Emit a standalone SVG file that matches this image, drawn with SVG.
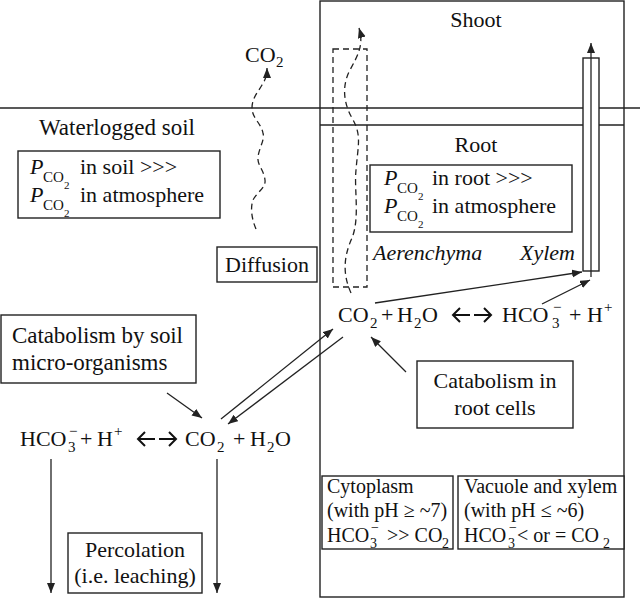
<svg xmlns="http://www.w3.org/2000/svg" width="640" height="599" viewBox="0 0 640 599">
<style>
text{font-family:"Liberation Serif","Times New Roman",serif;font-size:22px;fill:#111}
.s{font-size:20px}
.b{font-size:23px}
.sub{font-size:15px}
.s14{font-size:14px}
.ss{font-size:11px}
.it{font-style:italic}
.mid{text-anchor:middle}
.box{fill:#fff;stroke:#222;stroke-width:1.4}
.ln{fill:none;stroke:#222;stroke-width:1.4}
.ar{fill:none;stroke:#222;stroke-width:1.3;marker-end:url(#ah)}
.dash{fill:none;stroke:#222;stroke-width:1.3;stroke-dasharray:6 4}
.eqa{fill:none;stroke:#111;stroke-width:2}
</style>
<defs>
<marker id="ah" markerUnits="userSpaceOnUse" markerWidth="11" markerHeight="9" refX="10" refY="4" orient="auto">
<path d="M0,0 L10,4 L0,8 z" fill="#222"/>
</marker>
</defs>

<g id="plant">
<rect x="320" y="1" width="304" height="596" class="ln"/>
<line x1="0" y1="108" x2="640" y2="108" class="ln"/>
<line x1="320" y1="125" x2="624" y2="125" class="ln"/>
<text x="476" y="27" class="mid">Shoot</text>
<text x="476" y="152" class="mid">Root</text>
</g>

<g id="soil-label">
<text x="39" y="135" class="b">Waterlogged soil</text>
</g>

<g id="pco2-soil">
<rect x="18" y="151" width="202" height="67" class="box"/>
<text x="30" y="174" class="it">P</text><text x="43" y="182" class="sub">CO</text><text x="64" y="189" class="ss">2</text><text x="80" y="174">in soil &gt;&gt;&gt;</text>
<text x="30" y="202" class="it">P</text><text x="43" y="210" class="sub">CO</text><text x="64" y="217" class="ss">2</text><text x="80" y="202">in atmosphere</text>
</g>

<g id="co2-air">
<text x="245" y="62">CO</text><text x="276" y="67" class="sub">2</text>
</g>

<g id="aerenchyma">
<rect x="333" y="49" width="34" height="238" fill="none" stroke="#222" stroke-width="1.3" stroke-dasharray="6 4"/>
<text x="373" y="260" class="it">Aerenchyma</text>
</g>

<g id="xylem">
<rect x="583" y="58" width="16" height="213" class="box"/>
<text x="520" y="260" class="it">Xylem</text>
</g>

<g id="pco2-root">
<rect x="370" y="165" width="202" height="67" class="box"/>
<text x="384" y="185" class="it">P</text><text x="397" y="193" class="sub">CO</text><text x="418" y="200" class="ss">2</text><text x="432" y="185">in root &gt;&gt;&gt;</text>
<text x="384" y="213" class="it">P</text><text x="397" y="221" class="sub">CO</text><text x="418" y="228" class="ss">2</text><text x="432" y="213">in atmosphere</text>
</g>

<g id="diffusion">
<rect x="217" y="247" width="100" height="35" class="box"/>
<text x="267" y="272" class="mid">Diffusion</text>
</g>

<g id="catabolism-soil">
<rect x="1" y="315" width="195" height="68" class="box"/>
<text x="12" y="343" class="b" textLength="171">Catabolism by soil</text>
<text x="12" y="370" class="b">micro-organisms</text>
</g>

<g id="eq-root">
<text x="338" y="322">CO</text><text x="370" y="328" class="sub">2</text>
<text x="381" y="322">+</text>
<text x="397" y="322">H</text><text x="414" y="328" class="sub">2</text><text x="422" y="322">O</text>
<text x="502" y="322">HCO</text><text x="552" y="328" class="sub">3</text><text x="553" y="312" class="sub">−</text>
<text x="569" y="322">+</text>
<text x="587" y="322">H</text><text x="604" y="312" class="sub">+</text>
</g>

<g id="catabolism-root">
<rect x="417" y="361" width="156" height="67" class="box"/>
<text x="495" y="388" class="mid">Catabolism in</text>
<text x="495" y="415" class="mid">root cells</text>
</g>

<g id="eq-soil">
<text x="20" y="446">HCO</text><text x="68" y="452" class="sub">3</text><text x="69" y="436" class="sub">−</text>
<text x="80" y="446">+</text>
<text x="97" y="446">H</text><text x="114" y="436" class="sub">+</text>
<text x="185" y="446">CO</text><text x="217" y="452" class="sub">2</text>
<text x="233" y="446">+</text>
<text x="250" y="446">H</text><text x="267" y="452" class="sub">2</text><text x="275" y="446">O</text>
</g>

<g id="percolation">
<rect x="68" y="533" width="134" height="60" class="box"/>
<text x="135" y="557" class="mid">Percolation</text>
<text x="135" y="583" class="mid">(i.e. leaching)</text>
</g>

<g id="cytoplasm">
<rect x="322" y="476" width="131" height="73" class="box"/>
<text x="327" y="493" class="s">Cytoplasm</text>
<text x="327" y="517" class="s">(with pH ≥ ~7)</text>
<text x="327" y="542" class="s">HCO</text><text x="370" y="548" class="s14">3</text><text x="371" y="532" class="s14">−</text>
<text x="387" y="542" class="s">&gt;&gt; CO</text><text x="442" y="548" class="s14">2</text>
</g>

<g id="vacuole">
<rect x="458" y="476" width="166" height="73" class="box"/>
<text x="464" y="493" class="s">Vacuole and xylem</text>
<text x="464" y="517" class="s">(with pH ≤ ~6)</text>
<text x="464" y="542" class="s">HCO</text><text x="508" y="548" class="s14">3</text><text x="509" y="532" class="s14">−</text>
<text x="517" y="542" class="s">&lt; or = CO</text><text x="603" y="548" class="s14">2</text>
</g>

<g id="connectors">
<path class="dash" d="M256,229 C252,220 250,208 253,200 C257,192 266,188 265,180 C264,170 257,165 258,157 C259,148 265,140 263,133 C261,123 252,118 252,108 C252,98 258,92 262,85 C266,79 267,74 267,68" marker-end="url(#ah)"/>
<path class="dash" d="M351,293 C343,275 343,258 352,238 C360,218 354,190 356,170 C358,145 362,135 352,118 C343,102 342,85 350,70 C358,55 364,45 359,28" marker-end="url(#ah)"/>
<line x1="591" y1="277" x2="591" y2="43" class="ar"/>
<line x1="167" y1="393" x2="202" y2="418" class="ar"/>
<line x1="221" y1="419" x2="333" y2="329" class="ar"/>
<line x1="343" y1="337" x2="228" y2="424" class="ar"/>
<line x1="375" y1="303" x2="582" y2="272" class="ar"/>
<line x1="542" y1="304" x2="590" y2="280" class="ar"/>
<line x1="406" y1="372" x2="371" y2="337" class="ar"/>
<line x1="51" y1="459" x2="51" y2="593" class="ar"/>
<line x1="217" y1="459" x2="217" y2="593" class="ar"/>
<path class="eqa" d="M470,315 L453,315 M460,308 L453,315 L460,322 M474,315 L491,315 M484,308 L491,315 L484,322"/>
<path class="eqa" d="M155,439 L138,439 M145,432 L138,439 L145,446 M159,439 L176,439 M169,432 L176,439 L169,446"/>
</g>
</svg>
